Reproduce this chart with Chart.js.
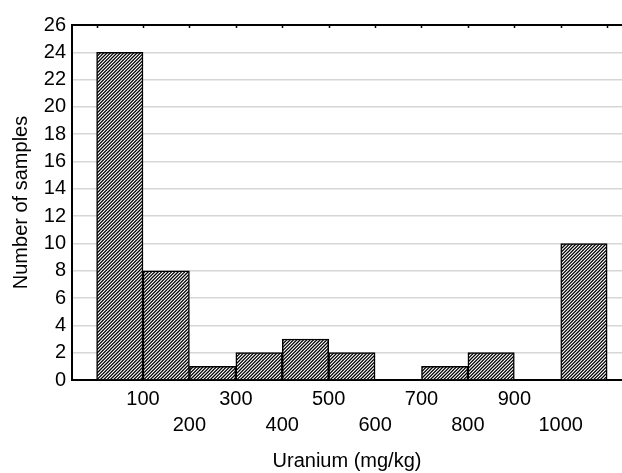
<!DOCTYPE html>
<html>
<head>
<meta charset="utf-8">
<title>Uranium histogram</title>
<script src="https://cdn.jsdelivr.net/npm/chart.js@4/dist/chart.umd.min.js"></script>
<style>
  html, body { margin: 0; padding: 0; background: #fff; }
  canvas { display: block; }
</style>
</head>
<body>
<canvas id="uraniumChart" width="622" height="473"></canvas>
<script>
// Histogram bins (mg/kg), each bin is 100 wide
const binStarts = [0, 100, 200, 300, 400, 500, 600, 700, 800, 900, 1000];
const binWidth = 100;
const sampleCounts = [24, 8, 1, 2, 3, 2, 0, 1, 2, 0, 10];

// Axis labels
const xTickValues = [100, 200, 300, 400, 500, 600, 700, 800, 900, 1000];
const topTickValues = [0, 100, 200, 300, 400, 500, 600, 700, 800, 900, 1000, 1100];
const yTickValues = [0, 2, 4, 6, 8, 10, 12, 14, 16, 18, 20, 22, 24, 26];

const fontFamily = "'Liberation Sans', Arial, sans-serif";

document.addEventListener("DOMContentLoaded", function () {
  drawHistogram();
});

// Diagonal "////" hatch used to fill the bars (3 stripes per 10px tile)
function makeHatch() {
  const size = 10;
  const stripes = 3;
  const tile = document.createElement("canvas");
  tile.width = size;
  tile.height = size;
  const c = tile.getContext("2d");
  c.fillStyle = "#fff";
  c.fillRect(0, 0, size, size);
  c.strokeStyle = "#000";
  c.lineWidth = 1.25;
  c.beginPath();
  for (let o = -size; o <= 2 * size; o += size / stripes) {
    c.moveTo(o - 1, size + 1);
    c.lineTo(o + size + 1, -1);
  }
  c.stroke();
  return c.createPattern(tile, "repeat");
}

// Top frame line with small inward tick marks
const topFrame = {
  id: "topFrame",
  afterDraw(chart) {
    const ctx = chart.ctx;
    const area = chart.chartArea;
    const x = chart.scales.x;
    ctx.save();
    ctx.strokeStyle = "#000";
    ctx.lineWidth = 2;
    ctx.beginPath();
    ctx.moveTo(area.left, area.top);
    ctx.lineTo(area.right, area.top);
    ctx.stroke();
    ctx.lineWidth = 1.5;
    ctx.beginPath();
    topTickValues.forEach((v) => {
      const px = Math.round(x.getPixelForValue(v)) + 0.5;
      ctx.moveTo(px, area.top);
      ctx.lineTo(px, area.top + 3);
    });
    ctx.stroke();
    ctx.restore();
  },
};

function drawHistogram() {
  const ctx = document.getElementById("uraniumChart").getContext("2d");

  const points = binStarts.map((start, i) => ({
    x: start + binWidth / 2,
    y: sampleCounts[i],
  }));

  new Chart(ctx, {
    type: "bar",
    data: {
      datasets: [
        {
          data: points,
          backgroundColor: makeHatch(),
          borderColor: "#000",
          borderWidth: 1.5,
          borderSkipped: "start",
          barPercentage: 1,
          categoryPercentage: 1,
        },
      ],
    },
    options: {
      responsive: false,
      animation: false,
      layout: {
        padding: { top: 25, right: 0, bottom: 0, left: 0 },
      },
      plugins: {
        legend: { display: false },
        tooltip: { enabled: false },
      },
      scales: {
        x: {
          type: "linear",
          offset: false,
          min: -53,
          max: 1132,
          afterBuildTicks: (scale) => {
            scale.ticks = xTickValues.map((v) => ({ value: v }));
          },
          afterFit: (scale) => {
            scale.height = 93;
          },
          grid: { display: false, drawTicks: false },
          border: { color: "#000", width: 2 },
          ticks: {
            autoSkip: false,
            maxRotation: 0,
            padding: 6,
            color: "#000",
            font: { family: fontFamily, size: 20, lineHeight: 1.3 },
            // alternate labels between two rows
            callback: (value) =>
              (value / 100) % 2 === 1 ? [String(value), ""] : ["", String(value)],
          },
          title: {
            display: true,
            text: "Uranium (mg/kg)",
            color: "#000",
            font: { family: fontFamily, size: 20 },
            padding: { top: 0, bottom: 0 },
          },
        },
        y: {
          min: 0,
          max: 26,
          afterBuildTicks: (scale) => {
            scale.ticks = yTickValues.map((v) => ({ value: v }));
          },
          afterFit: (scale) => {
            scale.width = 72;
          },
          grid: {
            color: "#d6d6d6",
            lineWidth: 1.5,
            drawTicks: false,
          },
          border: { color: "#000", width: 2 },
          ticks: {
            padding: 6,
            color: "#000",
            font: { family: fontFamily, size: 20 },
          },
          title: {
            display: true,
            text: "Number of samples",
            color: "#000",
            font: { family: fontFamily, size: 20 },
            padding: { top: 9, bottom: 0 },
          },
        },
      },
    },
    plugins: [topFrame],
  });
}
</script>
</body>
</html>
